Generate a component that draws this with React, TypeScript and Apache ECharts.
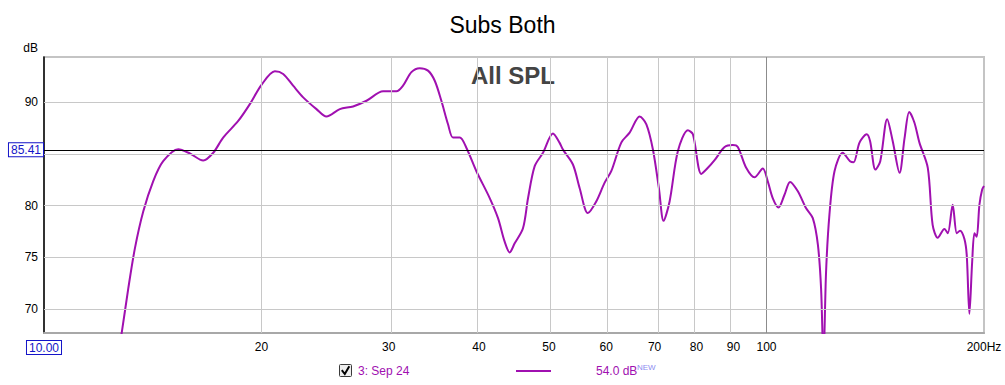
import React, { useEffect, useRef } from 'react';
import * as echarts from 'echarts';

// Frequency response (Hz) and SPL (dB)
const freqHz = [
  12.55, 12.81, 13.08, 13.36, 13.72, 14.16, 14.62, 15.34, 15.92, 16.61,
  17.15, 17.7, 18.57, 19.27, 20.0, 20.87, 21.43, 22.12, 22.84, 23.83,
  24.6, 25.67, 26.78, 27.95, 29.47, 30.75, 31.4, 32.25, 33.11, 34.0,
  34.74, 35.48, 36.24, 36.82, 37.62, 38.42, 39.67, 41.39, 42.5, 43.41,
  44.11, 44.82, 46.02, 46.77, 47.77, 49.05, 50.63, 51.7, 52.3, 53.96,
  55.12, 56.59, 58.12, 59.68, 60.97, 62.95, 64.65, 66.74, 68.19, 69.63,
  70.96, 72.03, 73.43, 75.4, 77.84, 79.09, 81.24, 82.96, 84.75, 87.5,
  89.8, 91.26, 93.73, 96.25, 98.83, 100.4, 102.0, 103.9, 105.9, 107.8,
  110.5, 113.4, 115.9, 117.8, 119.0, 119.9, 120.9, 122.2, 124.2, 127.5,
  130.5, 132.0, 134.5, 137.6, 139.1, 141.5, 143.7, 146.9, 149.5, 152.8,
  155.3, 157.6, 160.2, 162.8, 167.2, 169.8, 172.6, 176.3, 178.2, 181.0,
  183.4, 185.3, 187.9, 189.3, 190.9, 192.6, 194.0, 195.4, 197.1, 198.8,
  200.0,
];
const splDb = [
  64.0, 67.66, 71.95, 75.85, 79.42, 82.35, 84.3, 85.47, 85.05, 84.37,
  85.12, 86.59, 88.2, 89.83, 91.7, 93.02, 92.76, 91.62, 90.49, 89.35,
  88.63, 89.35, 89.61, 90.16, 91.07, 91.07, 91.62, 92.93, 93.32, 93.08,
  92.1, 90.16, 87.88, 86.59, 86.59, 85.61, 83.33, 80.73, 78.78, 76.5,
  75.46, 76.34, 77.8, 80.73, 83.82, 85.12, 86.98, 86.1, 85.4, 83.98,
  81.71, 79.27, 80.4, 82.2, 83.33, 86.1, 87.07, 88.63, 87.88, 85.44,
  81.71, 78.52, 80.4, 85.28, 87.3, 86.91, 83.07, 83.66, 84.4, 85.67,
  85.86, 85.67, 83.66, 82.74, 83.59, 82.35, 80.73, 79.81, 81.05, 82.29,
  81.38, 79.76, 78.78, 76.18, 71.95, 65.0, 73.57, 79.1, 83.33, 85.12,
  84.3, 84.2, 86.1, 86.91, 86.26, 83.49, 84.3, 88.37, 86.26, 83.17,
  86.59, 89.08, 88.05, 86.1, 83.66, 78.13, 76.89, 77.74, 77.32, 80.08,
  77.32, 77.57, 76.76, 75.2, 69.51, 74.55, 77.32, 76.99, 80.08, 81.54,
  81.9,
];

const xLabelHz = [10, 20, 30, 40, 50, 60, 70, 80, 90, 100, 200];
const xGridHz = [20, 30, 40, 50, 60, 70, 80, 90];
const xMajorGridHz = [100];
const yLabelDb = [70, 75, 80, 90];
const yGridDb = [70, 75, 80, 85, 90];
const refLevelDb = 85.41;

const X_MIN_HZ = 10;
const X_MAX_HZ = 200;
const Y_MIN = 67.65;
const Y_MAX = 94.4;

const FONT = "'Liberation Sans', Arial, sans-serif";
const CURVE = '#a010b0';
const BLUE = '#1414c8';

const lg = (f: number) => Math.log10(f);

export default function App() {
  const ref = useRef<HTMLDivElement>(null);

  useEffect(() => {
    if (!ref.current) return;
    const chart = echarts.init(ref.current, undefined, { renderer: 'svg' });

    const gridLines: any[] = [
      ...xGridHz.map((f) => ({ xAxis: lg(f), lineStyle: { color: '#c8c8c8', width: 1, type: 'solid' } })),
      ...xMajorGridHz.map((f) => ({ xAxis: lg(f), lineStyle: { color: '#8c8c8c', width: 1, type: 'solid' } })),
      ...yGridDb.map((v) => ({ yAxis: v, lineStyle: { color: '#c8c8c8', width: 1, type: 'solid' } })),
    ];

    const option: any = {
      animation: false,
      backgroundColor: '#ffffff',
      textStyle: { fontFamily: FONT },
      title: [
        {
          text: 'Subs Both',
          left: 'center',
          top: 8,
          textStyle: { fontSize: 23, fontWeight: 'normal', color: '#000', fontFamily: FONT },
        },
      ],
      grid: {
        left: 44,
        right: 21,
        top: 57,
        bottom: 52,
        show: true,
        borderColor: '#c4c4c4',
        borderWidth: 2,
        backgroundColor: '#ffffff',
      },
      xAxis: {
        type: 'value',
        min: lg(X_MIN_HZ),
        max: lg(X_MAX_HZ),
        axisLine: { show: true, onZero: false, lineStyle: { color: '#a8a8a8', width: 2 } },
        axisTick: { show: false },
        splitLine: { show: false },
        axisLabel: {
          customValues: xLabelHz.map(lg),
          showMinLabel: true,
          showMaxLabel: true,
          hideOverlap: false,
          color: '#000',
          fontSize: 12,
          fontFamily: FONT,
          margin: 8,
          formatter: (v: number) => {
            const f = Math.round(Math.pow(10, v));
            if (f === X_MIN_HZ) return '{box|10.00}';
            if (f === X_MAX_HZ) return '200Hz';
            return String(f);
          },
          rich: {
            box: {
              color: BLUE,
              borderColor: BLUE,
              borderWidth: 1,
              padding: [1, 2, 0, 2],
              fontSize: 12,
              fontFamily: FONT,
              backgroundColor: '#fff',
            },
          },
        },
      },
      yAxis: {
        type: 'value',
        min: Y_MIN,
        max: Y_MAX,
        name: 'dB',
        nameLocation: 'end',
        nameGap: 3,
        nameTextStyle: {
          color: '#000',
          fontSize: 12,
          fontFamily: FONT,
          align: 'right',
          verticalAlign: 'bottom',
          padding: [0, 6, 0, 0],
        },
        axisLine: { show: true, lineStyle: { color: '#000', width: 1.5 } },
        axisTick: { show: false },
        splitLine: { show: false },
        axisLabel: {
          customValues: yLabelDb,
          color: '#000',
          fontSize: 12,
          fontFamily: FONT,
          margin: 6,
        },
      },
      series: [
        {
          type: 'line',
          name: 'grid',
          data: [[lg(X_MIN_HZ), Y_MIN]],
          showSymbol: false,
          symbol: 'none',
          silent: true,
          lineStyle: { opacity: 0 },
          z: 1,
          markLine: {
            silent: true,
            symbol: ['none', 'none'],
            label: { show: false },
            emphasis: { disabled: true },
            data: gridLines,
          },
        },
        {
          type: 'line',
          name: 'ref',
          data: [[lg(X_MIN_HZ), Y_MIN]],
          showSymbol: false,
          symbol: 'none',
          silent: true,
          lineStyle: { opacity: 0 },
          z: 2,
          markLine: {
            silent: true,
            symbol: ['none', 'none'],
            emphasis: { disabled: true },
            data: [
              {
                yAxis: refLevelDb,
                lineStyle: { color: '#000', width: 1, type: 'solid' },
                label: {
                  show: true,
                  position: 'start',
                  distance: 1,
                  formatter: '85.41',
                  color: BLUE,
                  borderColor: BLUE,
                  borderWidth: 1,
                  padding: [1, 2, 0, 2],
                  backgroundColor: '#fff',
                  fontSize: 12,
                  fontFamily: FONT,
                },
              },
            ],
          },
        },
        {
          type: 'line',
          name: '3: Sep 24',
          data: freqHz.map((f, i) => [lg(f), splDb[i]]),
          smooth: 0.3,
          showSymbol: false,
          symbol: 'none',
          clip: true,
          z: 3,
          lineStyle: { color: CURVE, width: 2 },
        },
      ],
      graphic: [
        {
          type: 'text',
          x: 513,
          y: 75,
          silent: true,
          style: {
            text: 'All SPL',
            font: `bold 24px ${FONT}`,
            fill: '#444',
            align: 'center',
            verticalAlign: 'middle',
          },
        },
        {
          type: 'rect',
          shape: { x: 339.5, y: 364.5, width: 12, height: 12, r: 1 },
          style: { fill: '#eeeeee', stroke: '#3a3a3a', lineWidth: 1 },
        },
        {
          type: 'polyline',
          shape: { points: [[341.8, 370.2], [344.8, 374], [349.3, 366.2]] },
          style: { stroke: '#000', lineWidth: 2, fill: null },
        },
        {
          type: 'text',
          x: 358,
          y: 371,
          style: { text: '3: Sep 24', font: `12px ${FONT}`, fill: CURVE, verticalAlign: 'middle' },
        },
        {
          type: 'line',
          shape: { x1: 516, y1: 371, x2: 551, y2: 371 },
          style: { stroke: CURVE, lineWidth: 2 },
        },
        {
          type: 'text',
          x: 596,
          y: 371,
          style: { text: '54.0 dB', font: `12px ${FONT}`, fill: CURVE, verticalAlign: 'middle' },
        },
        {
          type: 'text',
          x: 637,
          y: 367,
          style: { text: 'NEW', font: `8px ${FONT}`, fill: '#8c8cf0', verticalAlign: 'middle' },
        },
      ],
    };

    chart.setOption(option);
    return () => chart.dispose();
  }, []);

  return (
    <div
      ref={ref}
      style={{ position: 'fixed', left: 0, top: 0, width: 1005, height: 385, background: '#fff' }}
    />
  );
}
